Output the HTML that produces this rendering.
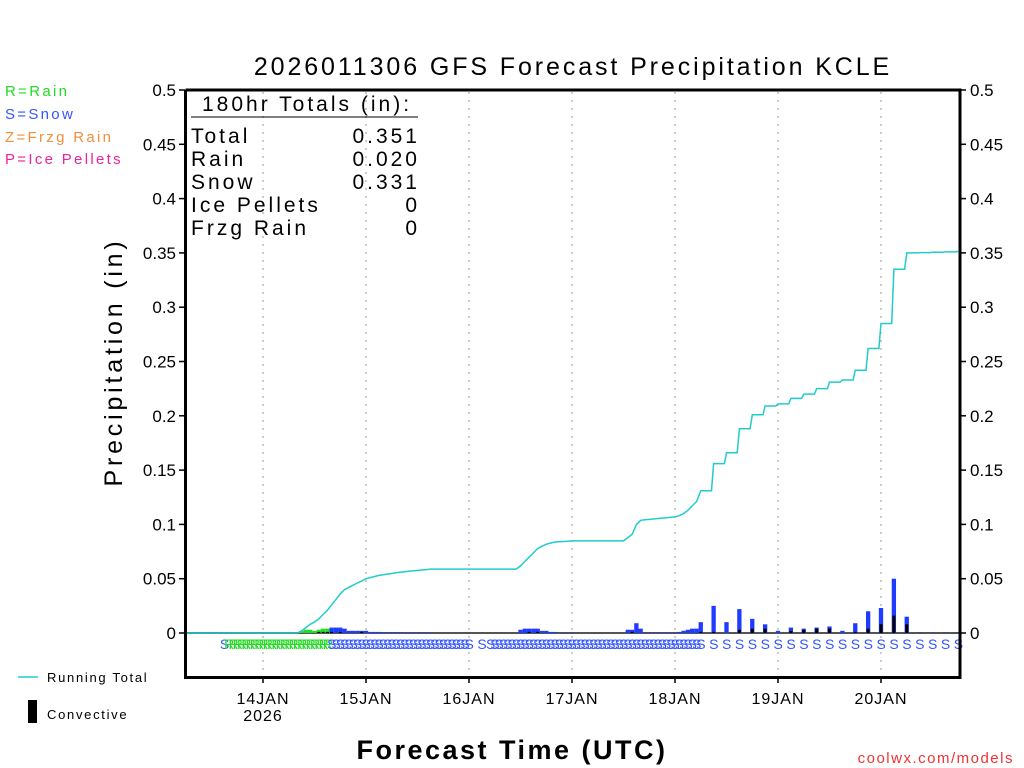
<!DOCTYPE html>
<html><head><meta charset="utf-8"><style>
html,body{margin:0;padding:0;background:#fff;}
svg{display:block;font-family:"Liberation Sans",sans-serif;}
</style></head><body>
<svg id="chart" width="1024" height="768" viewBox="0 0 1024 768" xmlns="http://www.w3.org/2000/svg">
<text x="573" y="75" font-size="25" text-anchor="middle" fill="#000" letter-spacing="2.9">2026011306 GFS Forecast Precipitation KCLE</text>
<g font-size="15" letter-spacing="2.3">
<text x="5" y="96" fill="#22dd22">R=Rain</text>
<text x="5" y="119" fill="#3355ff">S=Snow</text>
<text x="5" y="142" fill="#f0903a">Z=Frzg Rain</text>
<text x="5" y="164" fill="#ee2299">P=Ice Pellets</text>
</g>
<text transform="translate(122,362) rotate(-90)" font-size="25" text-anchor="middle" letter-spacing="3.8">Precipitation (in)</text>
<text x="512" y="759" font-size="27" text-anchor="middle" font-weight="bold" letter-spacing="2.5">Forecast Time (UTC)</text>
<text x="1014" y="763" font-size="15" text-anchor="end" fill="#ee3333" letter-spacing="1.5">coolwx.com/models</text>
<g>
<line x1="18" y1="677" x2="38" y2="677" stroke="#22cccc" stroke-width="1.5"/>
<text x="47" y="682" font-size="13" letter-spacing="1.7">Running Total</text>
<rect x="28" y="700" width="9" height="23" fill="#000"/>
<text x="47" y="719" font-size="13" letter-spacing="1.7">Convective</text>
</g>
<g id="grid"></g>
<g id="bars"></g>
<g id="labels"></g>
<g id="line"></g>
<g id="axes"></g>
<g font-size="21" fill="#000" letter-spacing="3">
<text x="202" y="111">180hr Totals (in):</text>
<line x1="191" y1="117" x2="418" y2="117" stroke="#000" stroke-width="1"/>
<text x="191" y="143">Total</text><text x="420" y="143" text-anchor="end">0.351</text>
<text x="191" y="166">Rain</text><text x="420" y="166" text-anchor="end">0.020</text>
<text x="191" y="189">Snow</text><text x="420" y="189" text-anchor="end">0.331</text>
<text x="191" y="212">Ice Pellets</text><text x="420" y="212" text-anchor="end">0</text>
<text x="191" y="235">Frzg Rain</text><text x="420" y="235" text-anchor="end">0</text>
</g>
</svg>
<script>
// hourly precip hours 1..120
const hourlyPrecip = [
0,0,0,0,0,0,0,0,0,0, 0,0,0,0,0,0,0,0,0,0, 0,0,0,0,0,0,
0.002,0.003,0.003,0.002,0.003,0.004,0.004,0.005,0.005,0.005,0.004,
0.002,0.002,0.002,0.002,0.002,0.001,0.001,0.001,
0.0006,0.0006,0.0006,0.0006,0.0006,
0.0004,0.0004,0.0004,0.0004,0.0004,0.0004,0.0004,
0,0,0,0,0,0,0,0,0,0,0,0,0,0,0,0,0,0,0,0,
0.003,0.004,0.004,0.004,0.004,0.002,0.002,0.001,0.001,0.00025,0.00025,0.00025,0.00025,
0,0,0,0,0,0,0,0,0,0,0,0,
0.003,0.003,0.009,0.004,0.0004,0.0004,0.0004,0.0004,0.0004,0.0004,0.0004,0.0004,
0.001,0.002,0.003,0.004,0.004,0.010];
// 3-hourly precip hours 123..180
const threeHourlyPrecip = [0.025,0.010,0.022,0.013,0.008,0.002,0.005,0.004,0.005,0.006,0.002,0.009,0.020,0.023,0.050,0.015,0.0003,0.0003,0.0003,0.0005];
const threeHourlyConvective = [0.001,0,0.003,0.004,0.004,0,0.002,0.003,0.004,0.004,0,0.001,0.004,0.008,0.016,0.008,0,0,0,0];
const hourlyConvectiveHours = [31,32,33,34,36,41,80,82,104,120];
const yTicks = [0,0.05,0.1,0.15,0.2,0.25,0.3,0.35,0.4,0.45,0.5];
const yTickLabels = ["0","0.05","0.1","0.15","0.2","0.25","0.3","0.35","0.4","0.45","0.5"];
const dayHours = [18,42,66,90,114,138,162];
const dayLabels = ["14JAN","15JAN","16JAN","17JAN","18JAN","19JAN","20JAN"];

const NS="http://www.w3.org/2000/svg";
const X0=185.75, PXH=103/24, Y0=633, PXI=1086;
const xs=h=>X0+h*PXH, ys=v=>Y0-v*PXI;
function mk(tag,attrs,parent){const e=document.createElementNS(NS,tag);for(const k in attrs)e.setAttribute(k,attrs[k]);parent.appendChild(e);return e;}
const grid=document.getElementById('grid'),bars=document.getElementById('bars'),labels=document.getElementById('labels'),lineG=document.getElementById('line'),axes=document.getElementById('axes');

function typeAt(h){ if(h===9) return 'S'; if(h>=10&&h<=33) return 'R'; if(h>=34&&h<=66) return 'S'; if(h===69) return 'S'; if(h>=71) return 'S'; return null; }

dayHours.forEach((h,i)=>{
  const g=mk('line',{x1:xs(h),y1:92,x2:xs(h),y2:677,stroke:'#999','stroke-dasharray':'2,6','stroke-width':1},grid);
  
  
  const t=mk('line',{x1:xs(h),y1:677,x2:xs(h),y2:683,stroke:'#000','stroke-width':1.5},axes);
  
  
  const l=mk('text',{x:xs(h),y:704,'font-size':16,'text-anchor':'middle','letter-spacing':1},axes);
  l.textContent=dayLabels[i];
  
  
});
const yr=mk('text',{x:xs(dayHours[0]),y:721,'font-size':16,'text-anchor':'middle','letter-spacing':1},axes);
yr.textContent='2026';



const zl=mk('line',{x1:186,y1:Y0,x2:960,y2:Y0,stroke:'#555','stroke-width':2},grid);



const pts=[[0,0]]; let cum=0;
function bar(h,v,w,conv){
  if(v<=0) return;
  const col = typeAt(h)==='R' ? '#22dd22' : '#1e3cff';
  const b=mk('rect',{x:xs(h)-w/2,y:ys(v),width:w,height:Math.max(0,ys(0)-ys(v)),fill:col},bars);
  
  
  if(conv>0){
    const c=mk('rect',{x:xs(h)-1.5,y:ys(conv),width:3,height:ys(0)-ys(conv),fill:'#000'},bars);
    
    
  }
}
hourlyPrecip.forEach((v,i)=>{const h=i+1; cum+=v; pts.push([h,cum]); bar(h,v,4.3,hourlyConvectiveHours.includes(h)?0.001:0);});
threeHourlyPrecip.forEach((v,i)=>{const h=123+3*i; pts.push([h-0.5,cum]); cum+=v; pts.push([h,cum]); bar(h,v,4.3,threeHourlyConvective[i]);});
pts.push([180,cum]);
const pl=mk('polyline',{points:pts.map(p=>xs(p[0]).toFixed(1)+','+ys(p[1]).toFixed(1)).join(' '),fill:'none',stroke:'#22cccc','stroke-width':1.5},lineG);



for(let h=1;h<=180;h++){
  if(h>120 && (h-120)%3!==0) continue;
  const t=typeAt(h); if(!t) continue;
  const e=mk('text',{x:xs(h)-4.5,y:649,'font-size':14,fill:t==='R'?'#22dd22':'#3355ff'},labels);
  e.textContent=t;
  
  
}

const fr=mk('path',{d:'M185.5,90 V677.5 H960 V90 H185.5',fill:'none',stroke:'#000','stroke-width':3},axes);


yTicks.forEach((v,i)=>{
  const t1=mk('line',{x1:179,y1:ys(v),x2:185,y2:ys(v),stroke:'#000','stroke-width':1.5},axes);
  
  
  const t2=mk('line',{x1:960,y1:ys(v),x2:966,y2:ys(v),stroke:'#000','stroke-width':1.5},axes);
  
  
  const l1=mk('text',{x:176,y:ys(v)+6,'font-size':17,'text-anchor':'end'},axes);
  l1.textContent=yTickLabels[i];
  
  
  const l2=mk('text',{x:970,y:ys(v)+6,'font-size':17},axes);
  l2.textContent=yTickLabels[i];
  
  
});
</script>
</body></html>
